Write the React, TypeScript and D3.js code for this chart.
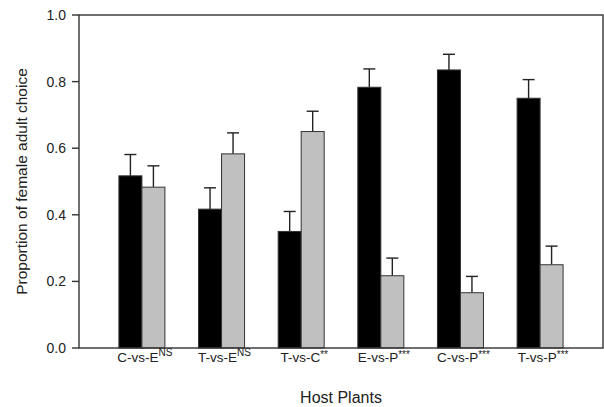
import React from "react";
import * as d3 from "d3";

const categories = ["C-vs-E", "T-vs-E", "T-vs-C", "E-vs-P", "C-vs-P", "T-vs-P"];
const significance = ["NS", "NS", "**", "***", "***", "***"];
const seriesA = [0.517, 0.417, 0.35, 0.783, 0.835, 0.75];
const seriesB = [0.483, 0.583, 0.65, 0.217, 0.166, 0.25];
const errA = [0.064, 0.064, 0.06, 0.055, 0.047, 0.056];
const errB = [0.064, 0.063, 0.061, 0.053, 0.049, 0.056];
const yTicks = [0, 0.2, 0.4, 0.6, 0.8, 1.0];

const W = 604;
const H = 407;
const left = 79;
const right = 603;
const top = 15;
const bottom = 348;
const font = "'Liberation Sans', Arial, sans-serif";

export default function App() {
  const x = d3.scalePoint<string>().domain(categories).range([left, right]).padding(0.79);
  const y = d3.scaleLinear().domain([0, 1]).range([bottom, top]);
  const bw = 23;
  const cap = 6;
  const axisColor = "#333";

  const series = [
    { vals: seriesA, errs: errA, fill: "#000000", offset: -bw },
    { vals: seriesB, errs: errB, fill: "#c0c0c0", offset: 0 },
  ];

  return (
    <svg
      width={W}
      height={H}
      style={{ position: "absolute", left: 0, top: 0, background: "#fff" }}
      fontFamily={font}
    >
      <rect x={0} y={0} width={W} height={H} fill="#fff" />
      {series.map((s, si) =>
        categories.map((c, i) => {
          const cx = (x(c) as number) + s.offset;
          const v = s.vals[i];
          const e = v + s.errs[i];
          return (
            <g key={`${si}-${i}`}>
              <line x1={cx + bw / 2} x2={cx + bw / 2} y1={y(v)} y2={y(e)} stroke="#222" strokeWidth={1.4} />
              <line x1={cx + bw / 2 - cap} x2={cx + bw / 2 + cap} y1={y(e)} y2={y(e)} stroke="#222" strokeWidth={1.4} />
              <rect x={cx} y={y(v)} width={bw} height={y(0) - y(v)} fill={s.fill} stroke="#333" strokeWidth={1} />
            </g>
          );
        })
      )}
      {/* frame */}
      <rect x={left} y={top} width={right - left} height={bottom - top} fill="none" stroke={axisColor} strokeWidth={1.4} />
      {yTicks.map((t) => (
        <g key={t}>
          <line x1={left - 7} x2={left} y1={y(t)} y2={y(t)} stroke={axisColor} strokeWidth={1.4} />
          <text x={left - 13} y={y(t)} dy="0.36em" textAnchor="end" fontSize={14} fill="#222">
            {d3.format(".1f")(t)}
          </text>
        </g>
      ))}
      {categories.map((c, i) => (
        <text key={c} x={(x(c) as number) + 3} y={362} textAnchor="middle" fontSize={13.5} fill="#222">
          {c}
          <tspan fontSize={10} dy={significance[i] === "NS" ? -6.5 : -4}>
            {significance[i]}
          </tspan>
        </text>
      ))}
      <text x={(left + right) / 2} y={403} textAnchor="middle" fontSize={16} fill="#222">
        Host Plants
      </text>
      <text
        transform={`translate(27,${(top + bottom) / 2}) rotate(-90)`}
        textAnchor="middle"
        fontSize={15.5}
        fill="#222"
      >
        Proportion of female adult choice
      </text>
    </svg>
  );
}
